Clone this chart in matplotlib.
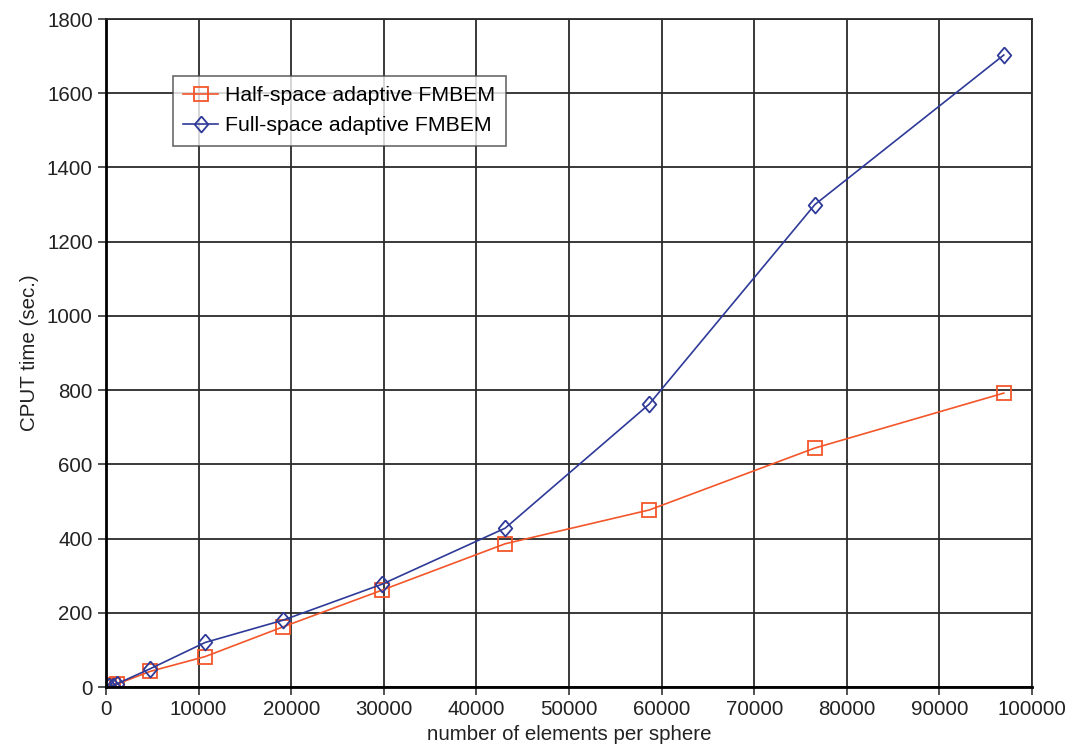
import matplotlib.pyplot as plt

plt.rcParams['font.family'] = ['Liberation Sans', 'DejaVu Sans']

# elements per sphere and CPU time (sec.)
elements = [300, 700, 1200, 4750, 10700, 19100, 29800, 43100, 58650, 76550, 96950]
half_space = [3, 5, 8, 42, 82, 162, 261, 386, 477, 644, 792]
full_space = [2, 4, 9, 49, 120, 180, 277, 428, 762, 1300, 1703]

# slightly tall open diamond
diamond = [(0, 1), (0.85, 0), (0, -1), (-0.85, 0), (0, 1)]

fig = plt.figure(figsize=(10.72, 7.52), dpi=100)
ax = fig.add_axes([0.0989, 0.0864, 0.8638, 0.8883])

ax.plot(elements, half_space, color='#f2562a', lw=1.2, marker='s', ms=10,
        mfc='none', mec='#f2562a', mew=1.3, label='Half-space adaptive FMBEM')
ax.plot(elements, full_space, color='#2e3a98', lw=1.2, marker=diamond, ms=11.5,
        mfc='none', mec='#2e3a98', mew=1.3, label='Full-space adaptive FMBEM')

ax.set_xlim(0, 100000)
ax.set_ylim(0, 1800)
ax.set_xticks(range(0, 100001, 10000))
ax.set_yticks(range(0, 1801, 200))
ax.grid(True, color='#2a2a2a', lw=1.3)
ax.set_axisbelow(True)

for side in ['top', 'right']:
    ax.spines[side].set_color('#2a2a2a')
    ax.spines[side].set_linewidth(1.3)
for side in ['left', 'bottom']:
    ax.spines[side].set_color('black')
    ax.spines[side].set_linewidth(2)

ax.tick_params(labelsize=14.8, length=6, width=1.2, color='#333333', labelcolor='#222222')
ax.set_xlabel('number of elements per sphere', fontsize=14.8, color='#222222', labelpad=4)
ax.set_ylabel('CPUT time (sec.)', fontsize=14.8, color='#222222', labelpad=6)

leg = ax.legend(loc='upper left', bbox_to_anchor=(0.072, 0.915), fontsize=15.3,
                frameon=True, fancybox=False, edgecolor='#444444',
                borderpad=0.5, handlelength=1.65, handletextpad=0.3,
                labelspacing=0.5, borderaxespad=0)
leg.get_frame().set_linewidth(1.2)

fig.savefig('out.png', dpi=100)
